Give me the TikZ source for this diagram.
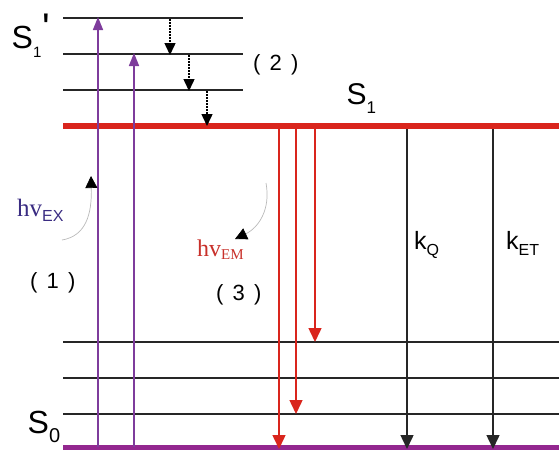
\documentclass[tikz,border=0pt]{standalone}
\usepackage{fontspec}
\setmainfont{Liberation Sans}
\newfontfamily\serifhv{Liberation Serif}
\newfontfamily\sanssub{Liberation Sans}
\usetikzlibrary{arrows.meta}
\definecolor{myred}{HTML}{D9251D}
\definecolor{mypurple}{HTML}{7E3C9C}
\definecolor{mymag}{HTML}{93278F}
\definecolor{myblue}{HTML}{3A2C82}
\definecolor{myred2}{HTML}{C8302A}
\newcommand{\fs}[1]{\fontsize{#1}{#1}\selectfont}
\newcommand{\sub}[3]{\raisebox{-#1pt}{\fs{#2}#3}}
\begin{document}
\begin{tikzpicture}[x=1pt,y=-1pt,
  level/.style={line width=1.6pt,black!85},
  tri/.style={-{Triangle[width=13pt,length=14pt]}},
  exc/.style={-{Triangle[width=10pt,length=13pt]},mypurple,line width=1.6pt},
  emi/.style={tri,myred,line width=1.5pt},
  nonrad/.style={tri,black!85,line width=1.5pt},
  relax/.style={-{Triangle[width=11pt,length=12pt]},black,line width=1.5pt,dash pattern=on 1.6pt off 1.4pt},
  curvy/.style={-{Triangle[width=12pt,length=12pt,black]},gray!55,line width=0.7pt},
  lbl/.style={inner sep=0pt,anchor=base west},
  paren/.style={lbl,font=\fs{22}}]
\useasboundingbox (0,0) rectangle (559,450);
% S1' levels
\coordinate (a1) at (63,18);  \coordinate (a1e) at (243,18);
\coordinate (a2) at (63,54);  \coordinate (a2e) at (243,54);
\coordinate (a3) at (63,90);  \coordinate (a3e) at (243,90);
\draw[level] (a1) -- (a1e);
\draw[level] (a2) -- (a2e);
\draw[level] (a3) -- (a3e);
% S1
\coordinate (s1l) at (63,126); \coordinate (s1r) at (559,126);
\draw[myred,line width=6pt] (s1l) -- (s1r);
% S0 levels
\coordinate (b1) at (63,342); \coordinate (b1e) at (559,342);
\coordinate (b2) at (63,378); \coordinate (b2e) at (559,378);
\coordinate (b3) at (63,414); \coordinate (b3e) at (559,414);
\draw[level] (b1) -- (b1e);
\draw[level] (b2) -- (b2e);
\draw[level] (b3) -- (b3e);
\coordinate (s0l) at (63,447.5); \coordinate (s0r) at (559,447.5);
\draw[mymag,line width=5pt] (s0l) -- (s0r);
% excitation arrows
\coordinate (e1s) at (98,447); \coordinate (e1e) at (98,17);
\coordinate (e2s) at (134,447); \coordinate (e2e) at (134,53);
\draw[exc] (e1s) -- (e1e);
\draw[exc] (e2s) -- (e2e);
% relaxation
\coordinate (r1s) at (170,19); \coordinate (r1e) at (170,55);
\coordinate (r2s) at (189,55); \coordinate (r2e) at (189,91);
\coordinate (r3s) at (207,91); \coordinate (r3e) at (207,126);
\draw[relax] (r1s) -- (r1e);
\draw[relax] (r2s) -- (r2e);
\draw[relax] (r3s) -- (r3e);
% emission
\coordinate (m1s) at (279,129); \coordinate (m1e) at (279,449);
\coordinate (m2s) at (296,129); \coordinate (m2e) at (296,414);
\coordinate (m3s) at (315,129); \coordinate (m3e) at (315,342);
\draw[emi] (m1s) -- (m1e);
\draw[emi] (m2s) -- (m2e);
\draw[emi] (m3s) -- (m3e);
% nonradiative
\coordinate (q1s) at (407,129); \coordinate (q1e) at (407,449);
\coordinate (q2s) at (493,129); \coordinate (q2e) at (493,449);
\draw[nonrad] (q1s) -- (q1e);
\draw[nonrad] (q2s) -- (q2e);
% curvy arrows
\coordinate (c1s) at (62,240); \coordinate (c1e) at (91,176);
\draw[curvy] (c1s) .. controls (86,236) and (92,214) .. (c1e);
\coordinate (c2s) at (266,183); \coordinate (c2e) at (235,239);
\draw[curvy] (c2s) .. controls (271,210) and (258,228) .. (c2e);
% labels
\node[lbl,font=\fs{32}] (S1p) at (11.5,48) {S\sub{9}{15}{1}\hspace{1pt}\raisebox{7pt}{\fs{40}\textquotesingle}};
\node[paren] (two) at (253,70) {(\hspace{0.42em}2\hspace{0.42em})};
\node[lbl,font=\fs{30}] (S1) at (346.5,104) {S\sub{9}{17}{1}};
\node[lbl,font=\fs{25}\serifhv,text=myblue] (hvex) at (17,216) {hv\sub{5}{16}{\sanssub EX}};
\node[lbl,font=\fs{24}\serifhv,text=myred2] (hvem) at (197,256) {hv\sub{3}{15}{EM}};
\node[paren] (one) at (30,288) {(\hspace{0.42em}1\hspace{0.42em})};
\node[paren] (three) at (216,300) {(\hspace{0.42em}3\hspace{0.42em})};
\node[lbl,font=\fs{25}] (kq) at (414,249) {k\sub{6}{16}{Q}};
\node[lbl,font=\fs{25}] (ket) at (506,249) {k\sub{6}{16}{ET}};
\node[lbl,font=\fs{32}] (S0) at (27.5,433) {S\sub{9}{20}{0}};
\end{tikzpicture}
\end{document}
